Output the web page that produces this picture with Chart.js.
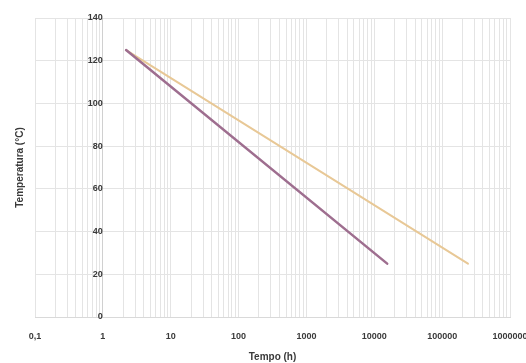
<!DOCTYPE html>
<html>
<head>
<meta charset="utf-8">
<script src="https://cdn.jsdelivr.net/npm/chart.js@4"></script>
<style>
  html, body { margin: 0; padding: 0; background: #ffffff; }
  canvas { display: block; }
</style>
</head>
<body>
<canvas id="c" width="526" height="363"></canvas>
<script>
// ---- data ----
const seriesATime = [2.2, 15500];     // h
const seriesATemp = [125, 25];        // °C
const seriesBTime = [2.2, 240000];    // h
const seriesBTemp = [125, 25];        // °C

const xDecades = [0.1, 1, 10, 100, 1000, 10000, 100000, 1000000];
const xTickLabels = ['0,1', '1', '10', '100', '1000', '10000', '100000', '1000000'];
const yTicks = [0, 20, 40, 60, 80, 100, 120, 140];

const toPts = (xs, ys) => xs.map((x, i) => ({ x: x, y: ys[i] }));

const gridColor = '#e4e4e4';
const labelColor = '#3a3a3a';
const fontFamily = "'Liberation Sans', Arial, sans-serif";

const ctx = document.getElementById('c').getContext('2d');
new Chart(ctx, {
  type: 'line',
  data: {
    datasets: [
      {
        data: toPts(seriesATime, seriesATemp),
        borderColor: '#9e6e8f',
        borderWidth: 2.5,
        pointRadius: 0,
        borderCapStyle: 'round',
        tension: 0
      },
      {
        data: toPts(seriesBTime, seriesBTemp),
        borderColor: '#e8c896',
        borderWidth: 2,
        pointRadius: 0,
        borderCapStyle: 'round',
        tension: 0
      }
    ]
  },
  options: {
    responsive: false,
    animation: false,
    layout: { padding: { top: 18, right: 16, left: 0, bottom: 0 } },
    plugins: { legend: { display: false }, tooltip: { enabled: false } },
    scales: {
      x: {
        type: 'logarithmic',
        min: xDecades[0],
        max: xDecades[xDecades.length - 1],
        afterBuildTicks: (s) => {
          const t = [];
          for (let d = 0; d < xDecades.length; d++) {
            const base = xDecades[d];
            if (d === xDecades.length - 1) { t.push({ value: base }); break; }
            for (let m = 1; m <= 9; m++) t.push({ value: +(base * m).toPrecision(6) });
          }
          s.ticks = t;
        },
        afterFit: (s) => { s.height = 46; s.paddingLeft = 0; s.paddingRight = 0; },
        ticks: {
          autoSkip: false,
          maxRotation: 0,
          padding: 14,
          color: labelColor,
          font: { family: fontFamily, size: 9, weight: 'bold' },
          callback: function (value) {
            const i = xDecades.findIndex(d => Math.abs(d - value) / d < 1e-6);
            return i >= 0 ? xTickLabels[i] : '';
          }
        },
        grid: { color: gridColor, lineWidth: 1, drawTicks: false },
        border: { display: true, color: '#d9d9d9' },
        title: {
          display: true,
          text: 'Tempo (h)',
          color: labelColor,
          font: { family: fontFamily, size: 10, weight: 'bold' },
          padding: { top: 0, bottom: 0 }
        }
      },
      y: {
        type: 'linear',
        position: 'left',
        min: yTicks[0],
        max: yTicks[yTicks.length - 1],
        afterBuildTicks: (s) => { s.ticks = yTicks.map(v => ({ value: v })); },
        afterFit: (s) => { s.width = 35; },
        ticks: { display: false },
        grid: { color: gridColor, lineWidth: 1, drawTicks: false },
        border: { display: false },
        title: {
          display: true,
          text: 'Temperatura (°C)',
          color: labelColor,
          font: { family: fontFamily, size: 10, weight: 'bold' },
          padding: { top: 14, bottom: 0 }
        }
      },
      y2: {
        type: 'linear',
        axis: 'y',
        position: { x: 1 },
        min: yTicks[0],
        max: yTicks[yTicks.length - 1],
        afterBuildTicks: (s) => { s.ticks = yTicks.map(v => ({ value: v })); },
        ticks: {
          padding: 9,
          color: labelColor,
          font: { family: fontFamily, size: 9, weight: 'bold' }
        },
        grid: { display: false },
        border: { display: true, color: '#d0d0d0', width: 1 }
      }
    }
  }
});
</script>
</body>
</html>
